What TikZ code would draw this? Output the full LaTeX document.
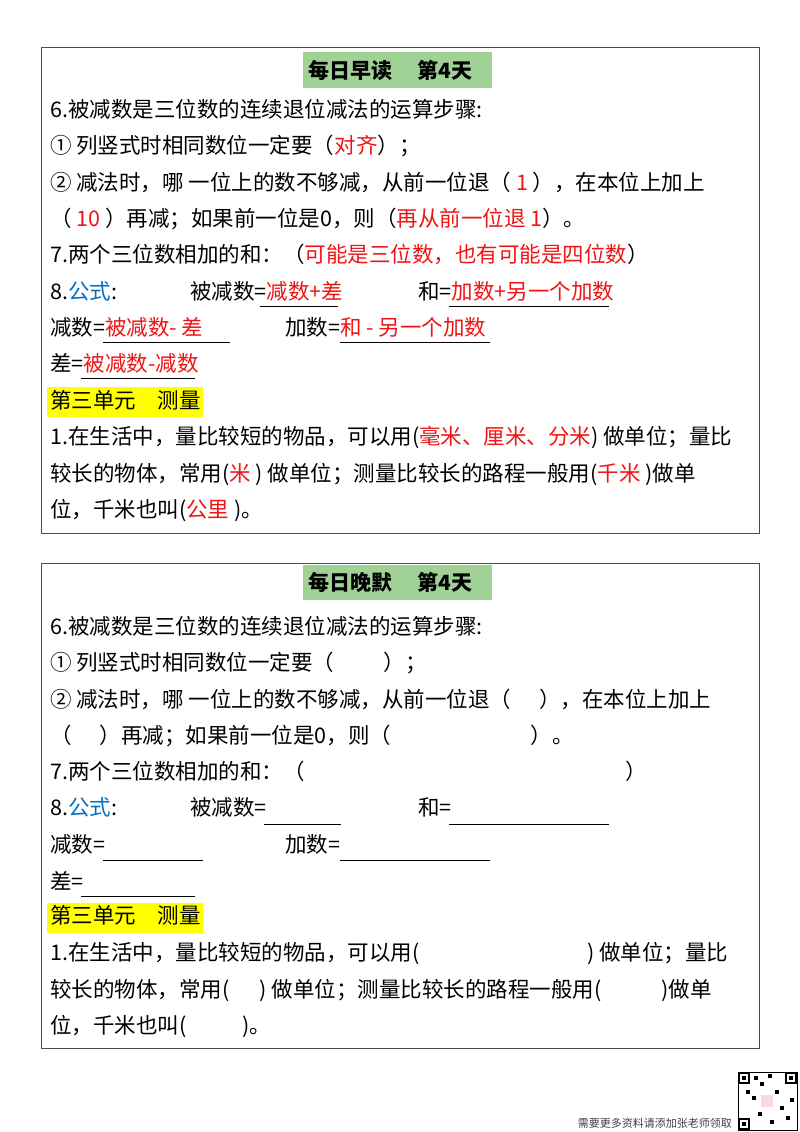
\documentclass[tikz,border=0pt]{standalone}
\usepackage{fontspec}
\newfontfamily\cjk{Noto Sans CJK SC}
\definecolor{hlg}{RGB}{160,210,150}
\definecolor{hly}{RGB}{255,255,0}
\definecolor{rd}{RGB}{240,20,20}
\definecolor{bl}{RGB}{0,112,192}
\newcommand{\rr}[1]{\textcolor{rd}{#1}}
\newcommand{\bb}[1]{\textcolor{bl}{#1}}
\tikzset{t/.style={anchor=base west,inner sep=0,font=\cjk\fontsize{21.5}{21.5}\selectfont},
 ttl/.style={t,font=\cjk\bfseries\fontsize{21}{21}\selectfont},
 frame/.style={draw=black!70,line width=0.8pt},
 ul/.style={line width=0.8pt}}
\begin{document}
\begin{tikzpicture}[x=1pt,y=-1pt]
\useasboundingbox (0,0) rectangle (800,1132);
\fill[white] (0,0) rectangle (800,1132);
% ===== top box
\draw[frame] (41,47) rectangle (759,533);
\fill[hlg] (303,52) rectangle (492,88);
\node[ttl] (t1) at (308,78) {每日早读\hspace{1.2em}第4天};
\node[t] (a1) at (50,117) {6.被减数是三位数的连续退位减法的运算步骤:};
\node[t] (a2) at (50,153) {① 列竖式时相同数位一定要（\rr{对齐}）；};
\node[t] (a3) at (50,190) {② 减法时，哪 一位上的数不够减，从前一位退（ \rr{1} ），在本位上加上};
\node[t] (a4) at (50,226) {（ \rr{10} ）再减；如果前一位是0，则（\rr{再从前一位退 1}）。};
\node[t] (a5) at (50,262) {7.两个三位数相加的和：（\rr{可能是三位数，也有可能是四位数}）};
\node[t] (a6) at (50,299) {8.\bb{公式}:};
\node[t] (a7) at (190,299) {被减数=\rr{减数+差}};
\draw[ul] (260,306) -- (338,306);
\node[t] (a8) at (418,299) {和=\rr{加数+另一个加数}};
\draw[ul] (449,306) -- (609,306);
\node[t] (a9) at (50,335) {减数=\rr{被减数- 差}};
\draw[ul] (103,342) -- (230,342);
\node[t] (a10) at (285,335) {加数=\rr{和 - 另一个加数}};
\draw[ul] (340,342) -- (490,342);
\node[t] (a11) at (50,371) {差=\rr{被减数-减数}};
\draw[ul] (81,378) -- (195,378);
\fill[hly] (47,387) rectangle (203,417);
\node[t] (a12) at (50,408) {第三单元\hspace{1em}测量};
\node[t] (a13) at (50,444) {1.在生活中，量比较短的物品，可以用(\rr{ 毫米、厘米、分米}) 做单位；量比};
\node[t] (a14) at (50,481) {较长的物体，常用(\rr{ 米 }) 做单位；测量比较长的路程一般用(\rr{ 千米 })做单};
\node[t] (a15) at (50,517) {位，千米也叫(\rr{ 公里 })。};
% ===== bottom box
\draw[frame] (41,563) rectangle (759,1048);
\fill[hlg] (303,565) rectangle (492,600);
\node[ttl] (t2) at (308,590) {每日晚默\hspace{1.2em}第4天};
\node[t] (b1) at (50,634) {6.被减数是三位数的连续退位减法的运算步骤:};
\node[t] (b2) at (50,670) {① 列竖式时相同数位一定要（\hspace{2.3em}）；};
\node[t] (b3) at (50,707) {② 减法时，哪 一位上的数不够减，从前一位退（\hspace{1.3em}），在本位上加上};
\node[t] (b4) at (50,743) {（\hspace{1.3em}）再减；如果前一位是0，则（\hspace{6.5em}）。};
\node[t] (b5) at (50,779) {7.两个三位数相加的和：（};
\node[t] (b5r) at (625,779) {）};
\node[t] (b6) at (50,815) {8.\bb{公式}:};
\node[t] (b7) at (190,815) {被减数=};
\draw[ul] (264,824) -- (341,824);
\node[t] (b8) at (418,815) {和=};
\draw[ul] (449,824) -- (609,824);
\node[t] (b9) at (50,852) {减数=};
\draw[ul] (103,860) -- (203,860);
\node[t] (b10) at (285,852) {加数=};
\draw[ul] (340,860) -- (490,860);
\node[t] (b11) at (50,889) {差=};
\draw[ul] (81,896) -- (195,896);
\fill[hly] (47,903) rectangle (203,933);
\node[t] (b12) at (50,923) {第三单元\hspace{1em}测量};
\node[t] (b13) at (50,960) {1.在生活中，量比较短的物品，可以用(\hspace{7.8em}) 做单位；量比};
\node[t] (b14) at (50,997) {较长的物体，常用(\hspace{1.4em}) 做单位；测量比较长的路程一般用(\hspace{2.8em})做单};
\node[t] (b15) at (50,1033) {位，千米也叫(\hspace{2.6em})。};
% footer
\node[anchor=base east,inner sep=0,font=\cjk\fontsize{11}{11}\selectfont,text=black!75] (ft) at (732,1127) {需要更多资料请添加张老师领取};
\draw[line width=0.6pt] (738,1072) rectangle (797,1130);
\foreach \x/\y in {738/1072,785/1072,738/1118}{\fill (\x,\y) rectangle ++(12,12); \fill[white] (\x+2,\y+2) rectangle ++(8,8); \fill (\x+4,\y+4) rectangle ++(4,4);}
\foreach \x/\y in {754/1076,760/1082,768/1074,775/1090,752/1096,764/1100,780/1106,790/1098,770/1120,758/1112,746/1090,786/1116}{\fill (\x,\y) rectangle ++(4,4);}
\fill[pink!60] (761,1095) rectangle (773,1107);
\end{tikzpicture}
\end{document}
